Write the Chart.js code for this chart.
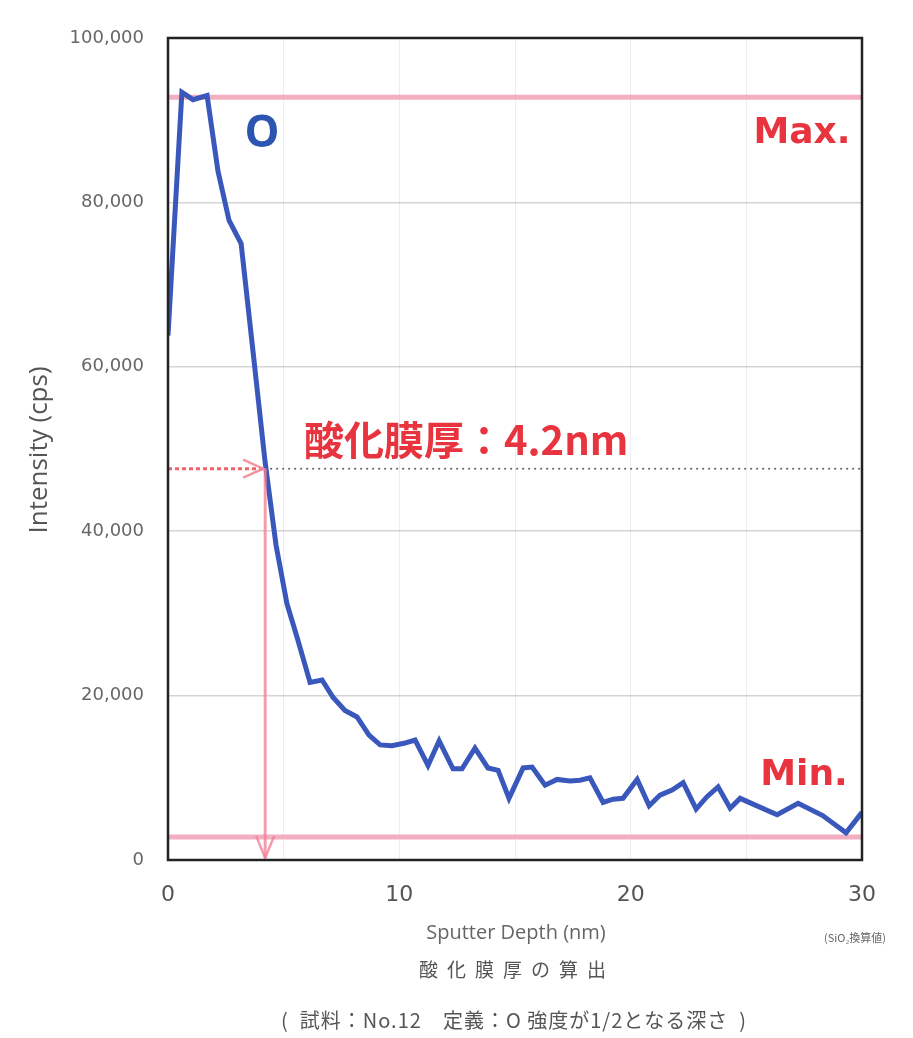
<!DOCTYPE html>
<html>
<head>
<meta charset="utf-8">
<script src="https://cdn.jsdelivr.net/npm/chart.js@4.4.1/dist/chart.umd.min.js"></script>
<style>
  body { margin: 0; background: #fff; }
  canvas { display: block; }
</style>
</head>
<body>
<canvas id="depthChart" width="913" height="1038"></canvas>
<script>
// O intensity vs sputter depth
const depthNm = [0, 0.6, 1.08, 1.69, 2.16, 2.64, 3.16, 3.67, 4.19, 4.67, 5.14, 5.62, 6.14, 6.66, 7.13, 7.65,
  8.17, 8.69, 9.17, 9.68, 10.2, 10.68, 11.24, 11.72, 12.32, 12.71, 13.27, 13.83, 14.27, 14.74, 15.35, 15.74,
  16.3, 16.82, 17.38, 17.81, 18.24, 18.81, 19.24, 19.67, 20.28, 20.8, 21.27, 21.79, 22.27, 22.83, 23.3, 23.78,
  24.3, 24.73, 25.29, 26.33, 27.24, 28.3, 29.31, 30];
const intensityO = [63800, 93400, 92500, 93000, 83800, 77800, 75000, 62000, 48600, 38300, 31200, 26700, 21600, 21900, 19800, 18200,
  17400, 15200, 14000, 13900, 14200, 14600, 11500, 14500, 11100, 11100, 13600, 11200, 10900, 7500, 11200, 11300,
  9100, 9800, 9600, 9700, 10000, 7000, 7400, 7500, 9800, 6600, 7900, 8500, 9400, 6200, 7700, 8900,
  6300, 7500, 6800, 5500, 6900, 5400, 3300, 5800];

const yTicks = [0, 20000, 40000, 60000, 80000, 100000];
const xTickLabels = [0, 10, 20, 30];

const maxLevel = 92800;
const minLevel = 2800;
const halfLevel = 47600;
const filmDepth = 4.2;

const points = depthNm.map((d, i) => ({ x: d, y: intensityO[i] }));

// reference lines, arrows, labels
const overlay = {
  id: 'overlay',
  beforeDatasetsDraw(chart) {
    const { ctx, chartArea: a, scales: { y } } = chart;
    ctx.save();
    ctx.strokeStyle = 'rgba(242,160,182,0.85)';
    ctx.lineWidth = 5;
    [maxLevel, minLevel].forEach(v => {
      const py = y.getPixelForValue(v);
      ctx.beginPath();
      ctx.moveTo(a.left, py);
      ctx.lineTo(a.right, py);
      ctx.stroke();
    });
    ctx.restore();
  },
  afterDatasetsDraw(chart) {
    const { ctx, chartArea: a, scales: { x, y } } = chart;
    const px = x.getPixelForValue(filmDepth);
    const py = y.getPixelForValue(halfLevel);
    ctx.save();

    // dotted line to the right
    ctx.fillStyle = '#666';
    for (let xx = px + 6; xx < a.right - 2; xx += 6) {
      ctx.beginPath();
      ctx.arc(xx, py, 1.1, 0, Math.PI * 2);
      ctx.fill();
    }

    // dashed red arrow from y axis
    ctx.strokeStyle = 'rgba(238,80,90,0.9)';
    ctx.lineWidth = 3;
    ctx.setLineDash([4, 3]);
    ctx.beginPath();
    ctx.moveTo(a.left, py);
    ctx.lineTo(px, py);
    ctx.stroke();
    ctx.setLineDash([]);
    ctx.strokeStyle = 'rgba(242,140,150,0.9)';
    ctx.lineWidth = 2.5;
    ctx.beginPath();
    ctx.moveTo(px - 22, py - 9);
    ctx.lineTo(px - 2, py);
    ctx.lineTo(px - 22, py + 9);
    ctx.stroke();

    // vertical arrow down to the axis
    ctx.strokeStyle = 'rgba(242,130,150,0.8)';
    ctx.lineWidth = 3;
    ctx.beginPath();
    ctx.moveTo(px, py);
    ctx.lineTo(px, a.bottom - 2);
    ctx.stroke();
    ctx.lineWidth = 2.5;
    ctx.beginPath();
    ctx.moveTo(px - 9, a.bottom - 24);
    ctx.lineTo(px, a.bottom - 2);
    ctx.lineTo(px + 9, a.bottom - 24);
    ctx.stroke();
    ctx.restore();
  },
  afterDraw(chart) {
    const { ctx, chartArea: a } = chart;
    ctx.save();
    // frame
    ctx.strokeStyle = '#222';
    ctx.lineWidth = 2.5;
    ctx.strokeRect(a.left, a.top, a.right - a.left, a.bottom - a.top);

    ctx.textBaseline = 'middle';
    ctx.textAlign = 'center';
    ctx.fillStyle = '#2b55b0';
    ctx.font = 'bold 44px "Open Sans"';
    ctx.fillText('O', 262, 134);

    ctx.fillStyle = '#e8343e';
    ctx.font = 'bold 36px "DejaVu Sans"';
    ctx.fillText('Max.', 802, 134);
    ctx.fillText('Min.', 804, 776);

    ctx.textAlign = 'left';
    ctx.font = 'bold 40px "Noto Sans CJK JP"';
    ctx.fillText('酸化膜厚：4.2nm', 304, 440);

    // axis titles and captions
    ctx.fillStyle = '#555';
    ctx.textAlign = 'center';
    ctx.font = '26px "Open Sans"';
    ctx.save();
    ctx.translate(40, 450);
    ctx.rotate(-Math.PI / 2);
    ctx.fillText('Intensity (cps)', 0, 0);
    ctx.restore();

    ctx.fillStyle = '#666';
    ctx.font = '20px "Open Sans"';
    ctx.fillText('Sputter Depth (nm)', 516, 933);
    ctx.font = '11px "Noto Sans CJK JP"';
    ctx.fillText('(SiO₂換算値)', 855, 938);

    ctx.fillStyle = '#555';
    ctx.font = '19px "Noto Sans CJK JP"';
    ctx.letterSpacing = '9px';
    ctx.fillText('酸化膜厚の算出', 517, 970);
    ctx.letterSpacing = '1px';
    ctx.font = '20px "Noto Sans CJK JP"';
    ctx.fillText('(  試料：No.12　定義：O 強度が1/2となる深さ  )', 514, 1020);
    ctx.restore();
  }
};

const ctx = document.getElementById('depthChart').getContext('2d');
new Chart(ctx, {
  type: 'line',
  data: {
    datasets: [{
      label: 'O',
      data: points,
      borderColor: '#3a58bc',
      borderWidth: 5,
      pointRadius: 0,
      tension: 0,
      fill: false
    }]
  },
  options: {
    responsive: false,
    animation: false,
    layout: { padding: { top: 38, right: 51, left: 0, bottom: 0 } },
    plugins: { legend: { display: false }, tooltip: { enabled: false } },
    scales: {
      x: {
        type: 'linear',
        min: 0,
        max: 30,
        afterFit: s => { s.height = 178; },
        afterBuildTicks: s => { s.ticks = [0, 5, 10, 15, 20, 25, 30].map(v => ({ value: v })); },
        ticks: {
          padding: 22,
          color: '#555',
          font: { family: 'DejaVu Sans', size: 22 },
          callback: v => xTickLabels.includes(v) ? String(v) : ''
        },
        grid: { color: 'rgba(0,0,0,0.07)', lineWidth: 1, drawTicks: false },
        border: { display: false }
      },
      y: {
        min: 0,
        max: 100000,
        afterFit: s => { s.width = 168; },
        afterBuildTicks: s => { s.ticks = yTicks.map(v => ({ value: v })); },
        ticks: {
          padding: 24,
          color: '#666',
          font: { family: 'DejaVu Sans', size: 18 },
          callback: v => v.toLocaleString('en-US')
        },
        grid: { color: 'rgba(0,0,0,0.17)', lineWidth: 1.5, drawTicks: false },
        border: { display: false }
      }
    }
  },
  plugins: [overlay]
});
</script>
</body>
</html>
